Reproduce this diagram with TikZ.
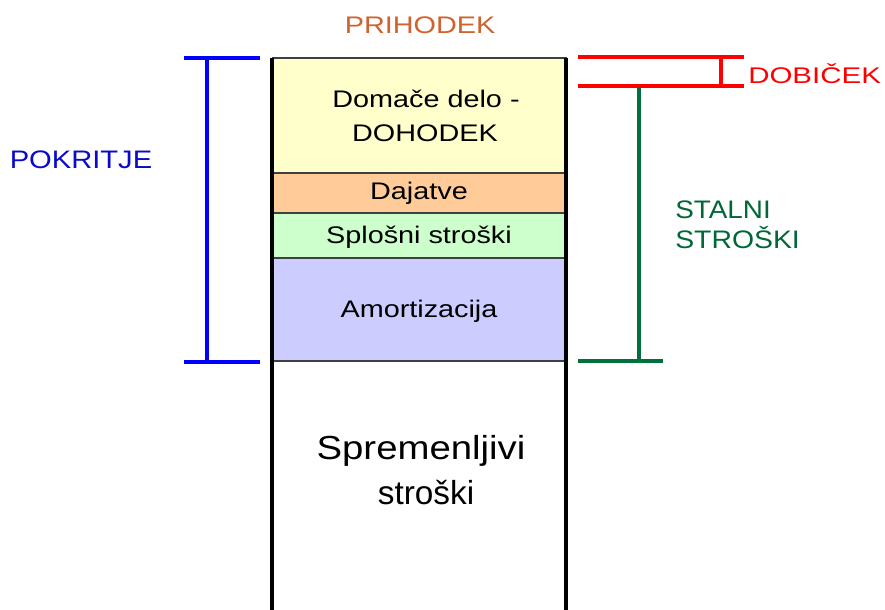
\documentclass[tikz,border=0pt]{standalone}
\usepackage{graphicx}
\usepackage{fontspec}
\setmainfont{Liberation Sans}
\definecolor{cyellow}{RGB}{255,255,204}
\definecolor{corange}{RGB}{255,204,153}
\definecolor{cgreen}{RGB}{204,255,204}
\definecolor{cblue}{RGB}{204,204,255}
\definecolor{prih}{RGB}{208,98,48}
\definecolor{pokr}{RGB}{10,10,200}
\definecolor{stal}{RGB}{0,104,56}
\definecolor{dgreen}{RGB}{0,112,60}
\newcommand{\wtxt}[3]{{\fontsize{#2}{#2}\selectfont\scalebox{#1}[1]{#3}}}
\begin{document}
\begin{tikzpicture}[x=0.75pt,y=-0.75pt,
  layer/.style={draw=black!75, line width=1.1pt},
  colline/.style={draw=black, line width=2.4pt},
  brk/.style={line width=2.3pt},
  lbl/.style={inner sep=0pt, anchor=base}]
\useasboundingbox (0,0) rectangle (885,610);
% layers
\draw[layer, fill=cyellow] (273,58) rectangle (566,173);
\draw[layer, fill=corange] (273,173) rectangle (566,213);
\draw[layer, fill=cgreen] (273,213) rectangle (566,258);
\draw[layer, fill=cblue] (273,258) rectangle (566,361);
\draw[layer] (273,361) -- (566,361);
% column sides
\coordinate (cl1) at (272,58); \coordinate (cl2) at (272,612);
\coordinate (cr1) at (566,58); \coordinate (cr2) at (566,612);
\draw[colline] (cl1) -- (cl2);
\draw[colline] (cr1) -- (cr2);
% texts inside
\node[lbl] (prihodek) at (420,34) {\color{prih}\wtxt{1.2}{18}{PRIHODEK}};
\node[lbl] (dom1) at (426,108) {\wtxt{1.2}{18}{Domače delo -}};
\node[lbl] (dom2) at (425,141) {\wtxt{1.2}{18}{DOHODEK}};
\node[lbl] (daj) at (419,199) {\wtxt{1.2}{18}{Dajatve}};
\node[lbl] (splo) at (419,243) {\wtxt{1.2}{18}{Splošni stroški}};
\node[lbl] (amor) at (419,317) {\wtxt{1.2}{18}{Amortizacija}};
\node[lbl] (spr1) at (421,459) {\wtxt{1.15}{25}{Spremenljivi}};
\node[lbl] (spr2) at (426,504) {\wtxt{1.0}{25}{stroški}};
% left bracket POKRITJE
\coordinate (bl1) at (184,58); \coordinate (br1) at (260,58);
\coordinate (bl2) at (184,362); \coordinate (br2) at (260,362);
\coordinate (bt) at (207,58); \coordinate (bb) at (207,362);
\draw[brk, blue] (bl1) -- (br1);
\draw[brk, blue] (bl2) -- (br2);
\draw[brk, blue] (bt) -- (bb);
\node[lbl] (pokritje) at (81,168) {\color{pokr}\wtxt{1.15}{19}{POKRITJE}};
% right: DOBICEK
\coordinate (dl1) at (578,57); \coordinate (dr1) at (744,57);
\coordinate (dl2) at (578,86); \coordinate (dr2) at (744,86);
\coordinate (dt) at (721,57); \coordinate (db) at (721,86);
\draw[brk, red] (dl1) -- (dr1);
\draw[brk, red] (dl2) -- (dr2);
\draw[brk, red] (dt) -- (db);
\node[lbl, anchor=base west] (dobicek) at (748,84) {\color{red}\wtxt{1.3}{17}{DOBIČEK}};
% right: STALNI STROSKI
\coordinate (st) at (639,87); \coordinate (sb) at (639,361);
\coordinate (sl) at (578,361); \coordinate (sr) at (663,361);
\draw[brk, dgreen] (st) -- (sb);
\draw[brk, dgreen] (sl) -- (sr);
\node[lbl, anchor=base west] (stal1) at (675,218) {\color{stal}\wtxt{1.1}{19}{STALNI}};
\node[lbl, anchor=base west] (stal2) at (675,248) {\color{stal}\wtxt{1.12}{19}{STROŠKI}};
\end{tikzpicture}
\end{document}
